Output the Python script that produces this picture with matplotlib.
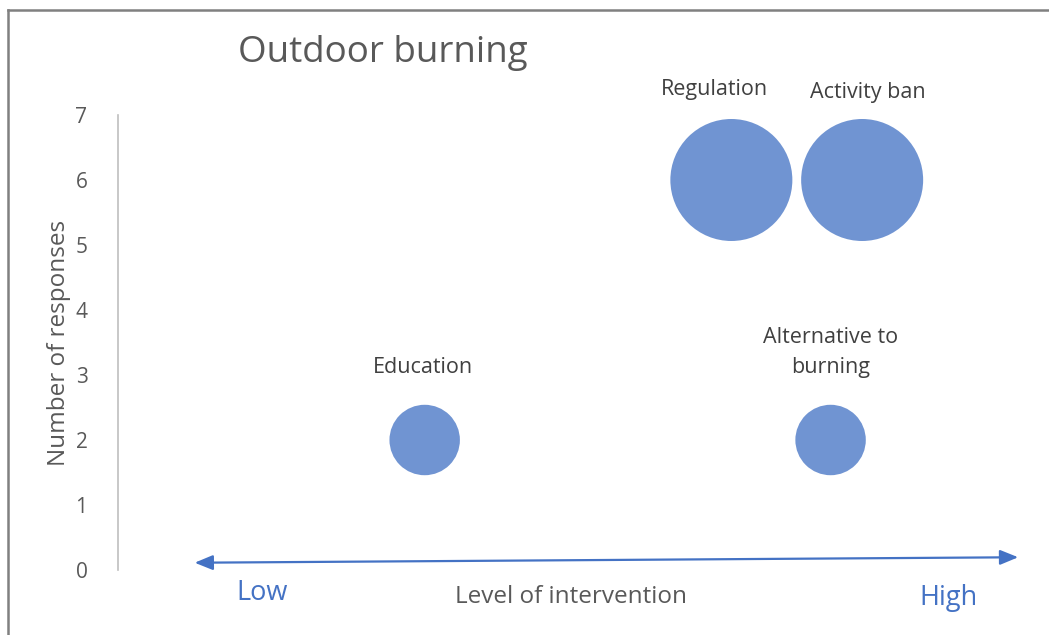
import matplotlib
matplotlib.use("Agg")
import matplotlib.pyplot as plt
from matplotlib.lines import Line2D

# ---- data ----
categories = ["Education", "Regulation", "Alternative to\nburning", "Activity ban"]
intervention_level = [3.4, 6.8, 7.9, 8.25]
responses = [2, 6, 2, 6]
bubble_size = [2, 6, 2, 6]
yticks = [0, 1, 2, 3, 4, 5, 6, 7]

plt.rcParams['font.family'] = ['Open Sans', 'DejaVu Sans']
GRAY = '#595959'
BLUE = '#4472C4'
BUBBLE = '#7094D2'

fig = plt.figure(figsize=(10.49, 6.35), dpi=100)
ax = fig.add_axes([118/1049, 65/635, 902/1049, 455/635])

scale = 1286
ax.scatter(intervention_level, responses, s=[b * scale for b in bubble_size],
           color=BUBBLE, edgecolors='none', zorder=3, clip_on=False)

# data labels (offsets in points from bubble centre)
offsets = {"Education": (-1, 52), "Regulation": (-12, 65),
           "Alternative to\nburning": (0, 63), "Activity ban": (4, 63)}
for c, x, y in zip(categories, intervention_level, responses):
    dx, dy = offsets[c]
    ax.annotate(c, xy=(x, y), xytext=(dx, dy), textcoords='offset points',
                ha='center', va='center', fontsize=15.5, color='#404040',
                linespacing=1.6)

ax.set_xlim(0, 10)
ax.set_ylim(0, 7)
ax.set_yticks(yticks)
ax.set_xticks([])
ax.tick_params(axis='y', length=0, pad=22, labelsize=15, labelcolor=GRAY)
for s in ['top', 'right', 'bottom']:
    ax.spines[s].set_visible(False)
ax.spines['left'].set_color('#BFBFBF')
ax.spines['left'].set_linewidth(1.2)
ax.set_ylabel("Number of responses", fontsize=17.5, color=GRAY, labelpad=3)

# double-headed arrow
ax.annotate('', xy=(0.998, 0.028), xytext=(0.085, 0.016), xycoords='axes fraction',
            textcoords='axes fraction',
            arrowprops=dict(arrowstyle='<|-|>,head_length=1.1,head_width=0.45',
                            color=BLUE, lw=1.6, shrinkA=0, shrinkB=0))

fig.text(262/1049, 1 - 593/635, "Low", fontsize=19.5, color=BLUE, ha='center', va='center')
fig.text(948/1049, 1 - 598/635, "High", fontsize=19.5, color=BLUE, ha='center', va='center')
fig.text(571/1049, 1 - 597/635, "Level of intervention", fontsize=17.5, color=GRAY,
         ha='center', va='center')

fig.text(238/1049, 1 - 53/635, "Outdoor burning", fontsize=26.5, color=GRAY,
         ha='left', va='center')

# outer frame (top & left)
fig.add_artist(Line2D([8/1049, 1], [1 - 10/635, 1 - 10/635], transform=fig.transFigure,
                      color='#808080', lw=1.8))
fig.add_artist(Line2D([8/1049, 8/1049], [0, 1 - 10/635], transform=fig.transFigure,
                      color='#808080', lw=1.8))

fig.savefig("out.png", dpi=100)
